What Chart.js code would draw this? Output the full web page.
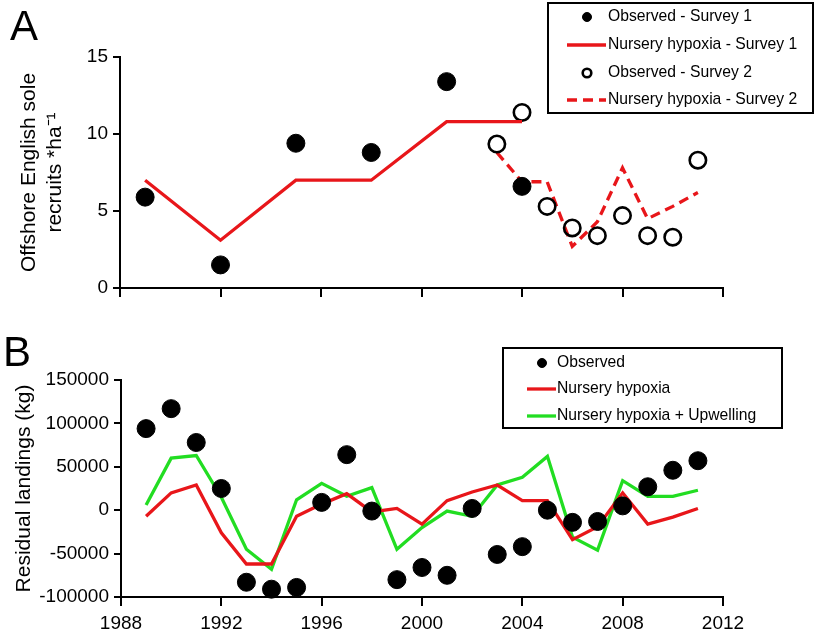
<!DOCTYPE html>
<html>
<head>
<meta charset="utf-8">
<script src="https://cdn.jsdelivr.net/npm/chart.js@4.4.1/dist/chart.umd.min.js"></script>
<style>
  body { margin: 0; background: #fff; }
  #wrap { position: relative; width: 817px; height: 633px; font-family: "Liberation Sans", Arial, sans-serif; }
  canvas { position: absolute; left: 0; }
  .panel { position: absolute; font-size: 42px; line-height: 1; color: #000; }
</style>
</head>
<body>
<div id="wrap">
  <canvas id="chartA" width="817" height="310" style="top:0"></canvas>
  <canvas id="chartB" width="817" height="323" style="top:310px"></canvas>
  <div class="panel" style="left:10px;top:5px">A</div>
  <div class="panel" style="left:3px;top:331px">B</div>
</div>
<script>
// Panel A - offshore recruits
const yearsSurvey1 = [1989, 1992, 1995, 1998, 2001, 2004];
const observedSurvey1 = [5.9, 1.5, 9.4, 8.8, 13.4, 6.6];
const hypoxiaSurvey1 = [7.0, 3.1, 7.0, 7.0, 10.8, 10.8];

const yearsSurvey2 = [2003, 2004, 2005, 2006, 2007, 2008, 2009, 2010, 2011];
const observedSurvey2 = [9.35, 11.4, 5.3, 3.9, 3.4, 4.7, 3.4, 3.3, 8.3];
const hypoxiaSurvey2 = [8.8, 6.9, 6.9, 2.7, 4.3, 7.8, 4.5, 5.3, 6.2];

// Panel B - residual landings (kg)
const yearsLandings = [1989, 1990, 1991, 1992, 1993, 1994, 1995, 1996, 1997, 1998, 1999, 2000,
  2001, 2002, 2003, 2004, 2005, 2006, 2007, 2008, 2009, 2010, 2011];
const observedLandings = [94000, 117000, 78000, 25000, -83000, -91000, -89000, 9000, 64000, -1000, -80000, -66000,
  -75000, 2000, -51000, -42000, 0, -14000, -13000, 5000, 27000, 46000, 57000];
const hypoxiaLandings = [-7000, 20000, 29000, -26000, -62000, -62000, -7000, 7000, 19000, -2000, 2000, -16000,
  11000, 21000, 29000, 11000, 11000, -34000, -19000, 20000, -16000, -8000, 2000];
const upwellingLandings = [6000, 60000, 63000, 15000, -45000, -68000, 12000, 31000, 16000, 26000, -45000, -20000,
  -1000, -7000, 29000, 38000, 62000, -31000, -46000, 34000, 16000, 16000, 23000];

const RED = "#e8161a";
const GREEN = "#22dd22";
const FONT = "'Liberation Sans', Arial, sans-serif";

function pts(xs, ys) {
  return xs.map((x, i) => ({ x: x, y: ys[i] }));
}

// draws the boxed legend at a fixed spot
const boxLegend = {
  id: "boxLegend",
  afterDraw(chart, args, opts) {
    const ctx = chart.ctx;
    const [bx, by, bw, bh] = opts.box;
    ctx.save();
    ctx.fillStyle = "#fff";
    ctx.fillRect(bx, by, bw, bh);
    ctx.lineWidth = 2;
    ctx.strokeStyle = "#000";
    ctx.strokeRect(bx, by, bw, bh);
    chart.data.datasets.forEach((ds, i) => {
      const y = opts.rows[i];
      if (ds.showLine) {
        ctx.beginPath();
        ctx.setLineDash(ds.borderDash || []);
        ctx.lineWidth = ds.borderWidth;
        ctx.strokeStyle = ds.borderColor;
        ctx.moveTo(opts.lineX[0], y);
        ctx.lineTo(opts.lineX[1], y);
        ctx.stroke();
        ctx.setLineDash([]);
      } else {
        ctx.beginPath();
        ctx.arc(opts.markX, y, ds.legendR, 0, Math.PI * 2);
        ctx.fillStyle = ds.backgroundColor;
        ctx.fill();
        ctx.lineWidth = ds.legendBorder;
        ctx.strokeStyle = "#000";
        ctx.stroke();
      }
      ctx.fillStyle = "#000";
      ctx.font = "15.7px " + FONT;
      ctx.textBaseline = "middle";
      ctx.textAlign = "left";
      ctx.fillText(ds.label, opts.textX, y);
    });
    ctx.restore();
  }
};

function axisBase() {
  return {
    border: { display: true, color: "#000", width: 2 },
    grid: { drawOnChartArea: false, drawTicks: true, tickLength: 7, color: "#000", lineWidth: 2 },
    ticks: { color: "#000", font: { family: FONT, size: 19 }, padding: 5 }
  };
}

function makeOptions(cfg) {
  const x = axisBase();
  x.type = "linear";
  x.min = 1988;
  x.max = 2012;
  x.grid.tickLength = 9;
  x.ticks.stepSize = 4;
  x.ticks.padding = 6;
  x.ticks.callback = v => String(v);
  if (!cfg.xLabels) x.ticks.color = "rgba(0,0,0,0)";
  x.afterFit = s => { s.height = cfg.xHeight; };

  const y = axisBase();
  y.min = cfg.yMin;
  y.max = cfg.yMax;
  y.ticks.stepSize = cfg.yStep;
  y.ticks.callback = v => String(v);
  y.title = { display: true, text: cfg.yTitle, color: "#000", font: { family: FONT, size: 21, lineHeight: 1.2 }, padding: { top: cfg.titlePad, bottom: 0 } };
  y.afterFit = s => { s.width = cfg.yWidth; };

  return {
    responsive: false,
    animation: false,
    devicePixelRatio: 1,
    layout: { padding: { top: cfg.padTop, right: 94, left: 0, bottom: 0 } },
    scales: { x: x, y: y },
    plugins: {
      legend: { display: false },
      tooltip: { enabled: false },
      boxLegend: cfg.legend
    }
  };
}

new Chart(document.getElementById("chartA"), {
  type: "scatter",
  data: {
    datasets: [
      {
        label: "Observed - Survey 1",
        data: pts(yearsSurvey1, observedSurvey1),
        showLine: false,
        pointRadius: 9,
        pointBorderWidth: 1,
        backgroundColor: "#000",
        borderColor: "#000",
        legendR: 4.5,
        legendBorder: 1,
        clip: false
      },
      {
        label: "Nursery hypoxia - Survey 1",
        data: pts(yearsSurvey1, hypoxiaSurvey1),
        showLine: true,
        pointRadius: 0,
        borderColor: RED,
        borderWidth: 3.3,
        backgroundColor: RED
      },
      {
        label: "Observed - Survey 2",
        data: pts(yearsSurvey2, observedSurvey2),
        showLine: false,
        pointRadius: 8.2,
        pointBorderWidth: 2.6,
        backgroundColor: "rgba(255,255,255,0)",
        borderColor: "#000",
        legendR: 4.3,
        legendBorder: 2.6,
        clip: false
      },
      {
        label: "Nursery hypoxia - Survey 2",
        data: pts(yearsSurvey2, hypoxiaSurvey2),
        showLine: true,
        pointRadius: 0,
        borderColor: RED,
        borderWidth: 3.3,
        borderDash: [10, 6],
        backgroundColor: RED
      }
    ]
  },
  options: makeOptions({
    xLabels: false, xHeight: 22, yMin: 0, yMax: 15, yStep: 5, yWidth: 120, padTop: 57,
    yTitle: ["Offshore English sole", "recruits *ha\u207B\u00B9"], titlePad: 17,
    legend: { box: [548, 3, 265, 110], rows: [17, 45, 73, 100], markX: 587, lineX: [567, 606], textX: 608 }
  }),
  plugins: [boxLegend]
});

new Chart(document.getElementById("chartB"), {
  type: "scatter",
  data: {
    datasets: [
      {
        label: "Observed",
        data: pts(yearsLandings, observedLandings),
        showLine: false,
        pointRadius: 9,
        pointBorderWidth: 1,
        backgroundColor: "#000",
        borderColor: "#000",
        legendR: 4.5,
        legendBorder: 1,
        clip: false
      },
      {
        label: "Nursery hypoxia",
        data: pts(yearsLandings, hypoxiaLandings),
        showLine: true,
        pointRadius: 0,
        borderColor: RED,
        borderWidth: 3.3,
        backgroundColor: RED
      },
      {
        label: "Nursery hypoxia + Upwelling",
        data: pts(yearsLandings, upwellingLandings),
        showLine: true,
        pointRadius: 0,
        borderColor: GREEN,
        borderWidth: 3.3,
        backgroundColor: GREEN
      }
    ]
  },
  options: makeOptions({
    xLabels: true, xHeight: 36, yMin: -100000, yMax: 150000, yStep: 50000, yWidth: 121, padTop: 70,
    yTitle: "Residual landings (kg)", titlePad: 12,
    legend: { box: [503, 38, 279, 80], rows: [53, 79, 106], markX: 542, lineX: [527, 556], textX: 557 }
  }),
  plugins: [boxLegend]
});
</script>
</body>
</html>
